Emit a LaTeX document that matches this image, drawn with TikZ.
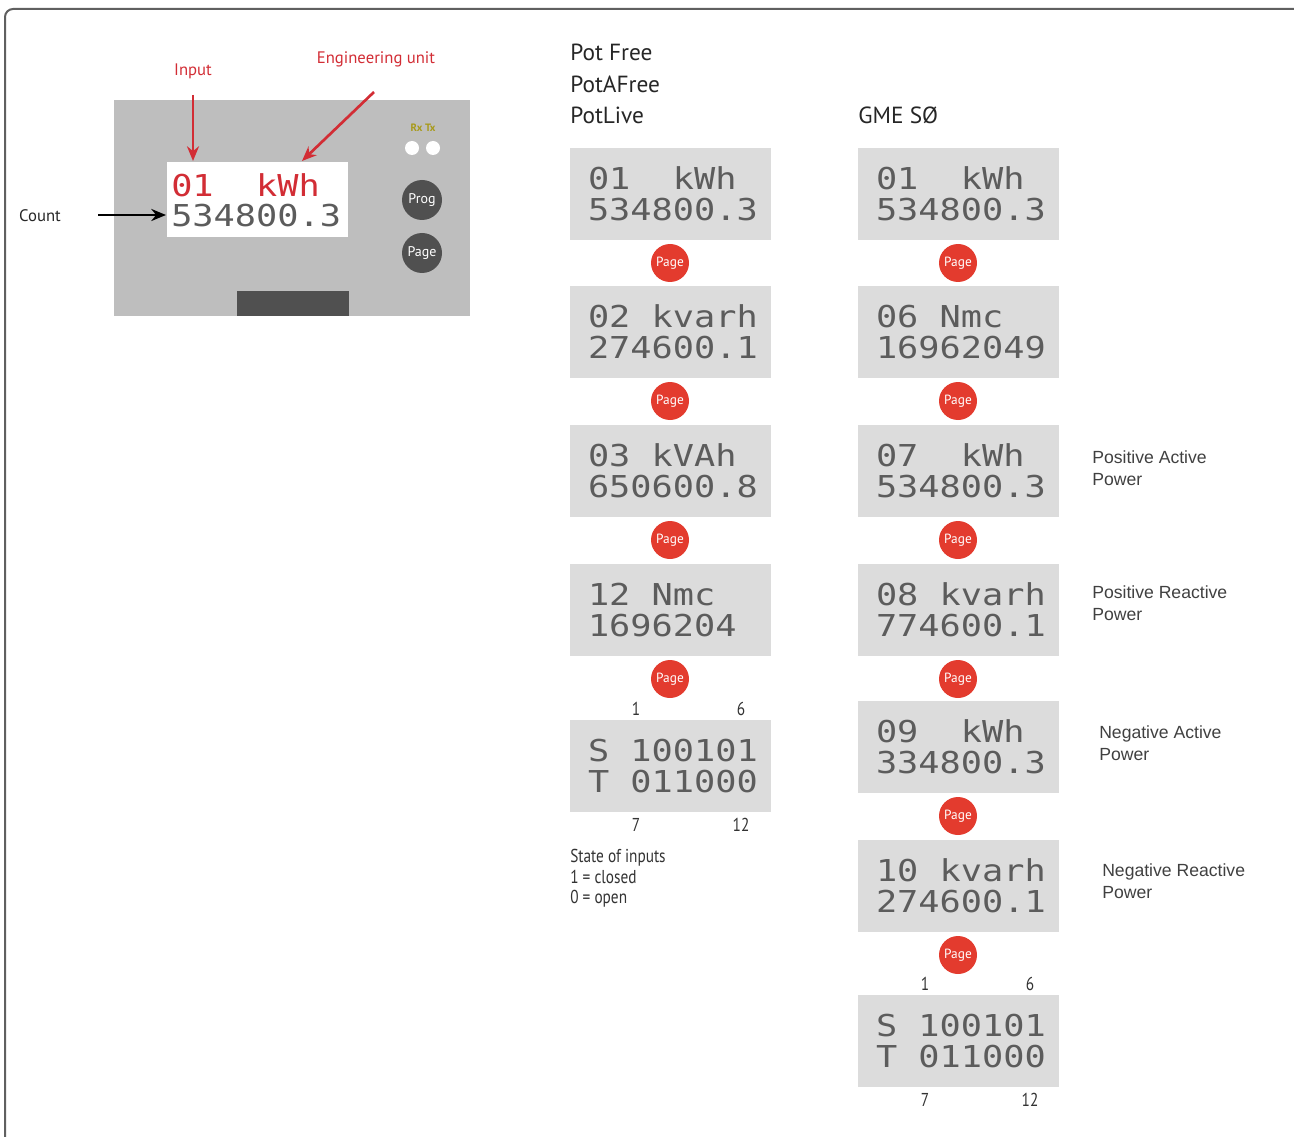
\documentclass[tikz,border=0pt]{standalone}
\usepackage{fontspec}
\setmainfont{PT Sans}
\newfontfamily\lcd[FakeStretch=1.17]{DejaVu Sans Mono}
\newfontfamily\arialf{Liberation Sans}
\newfontfamily\cond[FakeStretch=0.82]{PT Sans}
\newcommand\lsp{\hphantom{0}}
\usetikzlibrary{arrows.meta}
\definecolor{lcdgray}{HTML}{DCDCDC}
\definecolor{devgray}{HTML}{BEBEBE}
\definecolor{btngray}{HTML}{505050}
\definecolor{pagered}{HTML}{E33B2E}
\definecolor{lblred}{HTML}{D22D35}
\definecolor{lcdtext}{HTML}{5C5C5C}
\definecolor{rxtx}{HTML}{A89A1A}
\definecolor{framegray}{HTML}{606060}
\tikzset{
  lcdbox/.style={fill=lcdgray, draw=none, minimum width=150.75pt, minimum height=69pt,
    text width=123.75pt, align=left, inner xsep=0pt, inner ysep=0pt, text=lcdtext,
    font=\lcd\fontsize{22.6}{23.25}\selectfont},
  pagebtn/.style={circle, fill=pagered, draw=none, minimum size=28.5pt, inner sep=0pt,
    text=white, font=\fontsize{10}{10}\selectfont},
  devbtn/.style={circle, fill=btngray, draw=none, minimum size=30pt, inner sep=0pt,
    text=white, font=\fontsize{10.5}{10.5}\selectfont},
  led/.style={circle, fill=white, draw=none, minimum size=10.5pt, inner sep=0pt},
  hdr/.style={anchor=west, inner sep=0pt, font=\fontsize{17.5}{17.5}\selectfont, text=black!85},
  side/.style={anchor=west, align=left, inner sep=0pt, font=\arialf\fontsize{13.2}{16.5}\selectfont, text=black!75},
  pin/.style={inner sep=0pt, font=\cond\fontsize{14}{14}\selectfont, text=black!80},
  redlbl/.style={inner sep=0pt, font=\fontsize{12.5}{12.5}\selectfont, text=lblred},
  redarrow/.style={draw=lblred, line width=2pt, -{Stealth[length=11pt,width=9pt]}},
  blackarrow/.style={draw=black, line width=2pt, -{Stealth[length=11pt,width=9pt]}},
}
\begin{document}
\begin{tikzpicture}[x=0.75pt,y=-0.75pt]
\useasboundingbox (0,0) rectangle (1294,1137);
% outer frame
\draw[framegray, line width=1.5pt, rounded corners=6pt] (5,9) rectangle (1310,1160);

% ---- device ----
\node[fill=devgray, draw=none, minimum width=267pt, minimum height=162pt, inner sep=0pt] (dev) at (292,208) {};
\node[fill=white, draw=none, minimum width=135.75pt, minimum height=56.25pt, inner sep=0pt] (disp) at (257.5,199.5) {};
\node[fill=btngray, draw=none, minimum width=84pt, minimum height=18.75pt, inner sep=0pt] (slot) at (293,303.5) {};
\node[anchor=west, inner sep=0pt, text=lblred, font=\lcd\fontsize{22.6}{23.25}\selectfont] (dl1) at (171,185) {01\lsp\lsp kWh};
\node[anchor=west, inner sep=0pt, text=lcdtext, font=\lcd\fontsize{22.6}{23.25}\selectfont] (dl2) at (171,216) {534800.3};
\node[inner sep=0pt, text=rxtx, font=\bfseries\fontsize{8}{8}\selectfont] (rxtx) at (423,128) {Rx Tx};
\node[led] (rx) at (412,148) {};
\node[led] (tx) at (433,148) {};
\node[devbtn] (prog) at (422,200) {Prog};
\node[devbtn] (dpage) at (422,253) {Page};

\node[redlbl] (input) at (193,71) {Input};
\node[redlbl] (eng) at (376,59) {Engineering unit};
\node[inner sep=0pt, font=\fontsize{12.5}{12.5}\selectfont, text=black!85] (count) at (40,216) {Count};
\coordinate (inS) at (193,95);
\coordinate (inE) at (193,161);
\coordinate (enS) at (374,92);
\coordinate (enE) at (302,161);
\coordinate (coS) at (98,215);
\coordinate (coE) at (166,215);
\draw[redarrow] (inS) -- (inE);
\draw[redarrow] (enS) -- (enE);
\draw[blackarrow] (coS) -- (coE);

% ---- headers ----
\node[hdr] (h1) at (570,52) {Pot Free};
\node[hdr] (h2) at (570,84) {PotAFree};
\node[hdr] (h3) at (570,115) {PotLive};
\node[hdr] (h4) at (858,115) {GME SØ};

% ---- column 1 ----
\node[lcdbox] (a1) at (670.5,194) {01\lsp\lsp kWh\\534800.3};
\node[lcdbox] (a2) at (670.5,332) {02\lsp kvarh\\274600.1};
\node[lcdbox] (a3) at (670.5,471) {03\lsp kVAh\\650600.8};
\node[lcdbox] (a4) at (670.5,610) {12\lsp Nmc\\1696204};
\node[lcdbox] (a5) at (670.5,766) {S\lsp 100101\\T\lsp 011000};
\node[pagebtn] (ap1) at (670,263) {Page};
\node[pagebtn] (ap2) at (670,401) {Page};
\node[pagebtn] (ap3) at (670,540) {Page};
\node[pagebtn] (ap4) at (670,679) {Page};
\node[pin] (an1) at (636,709) {1};
\node[pin] (an6) at (741,709) {6};
\node[pin] (an7) at (636,825) {7};
\node[pin] (an12) at (741,825) {12};
\node[anchor=north west, align=left, inner sep=0pt, font=\cond\fontsize{14}{15.4}\selectfont, text=black!80] (state) at (570,849) {State of inputs\\1 = closed\\0 = open};

% ---- column 2 ----
\node[lcdbox] (b1) at (958.5,194) {01\lsp\lsp kWh\\534800.3};
\node[lcdbox] (b2) at (958.5,332) {06\lsp Nmc\\16962049};
\node[lcdbox] (b3) at (958.5,471) {07\lsp\lsp kWh\\534800.3};
\node[lcdbox] (b4) at (958.5,610) {08\lsp kvarh\\774600.1};
\node[lcdbox] (b5) at (958.5,747) {09\lsp\lsp kWh\\334800.3};
\node[lcdbox] (b6) at (958.5,886) {10\lsp kvarh\\274600.1};
\node[lcdbox] (b7) at (958.5,1041) {S\lsp 100101\\T\lsp 011000};
\node[pagebtn] (bp1) at (958,263) {Page};
\node[pagebtn] (bp2) at (958,401) {Page};
\node[pagebtn] (bp3) at (958,540) {Page};
\node[pagebtn] (bp4) at (958,679) {Page};
\node[pagebtn] (bp5) at (958,816) {Page};
\node[pagebtn] (bp6) at (958,955) {Page};
\node[pin] (bn1) at (925,984) {1};
\node[pin] (bn6) at (1030,984) {6};
\node[pin] (bn7) at (925,1100) {7};
\node[pin] (bn12) at (1030,1100) {12};

% ---- side labels ----
\node[side] (s1) at (1092,468) {Positive Active\\Power};
\node[side] (s2) at (1092,603) {Positive Reactive\\Power};
\node[side] (s3) at (1099,743) {Negative Active\\Power};
\node[side] (s4) at (1102,881) {Negative Reactive\\Power};
\end{tikzpicture}
\end{document}
